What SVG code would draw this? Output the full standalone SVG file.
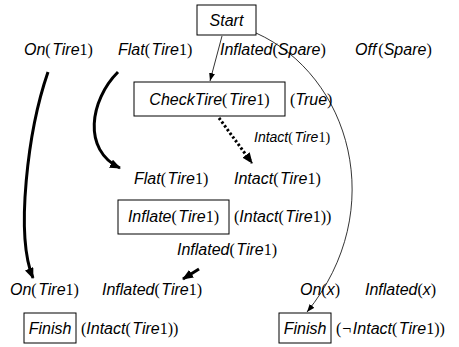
<svg xmlns="http://www.w3.org/2000/svg" width="459" height="347" viewBox="0 0 459 347">
  <defs>
    <style>
      .lb{font-family:"Liberation Sans",Arial,sans-serif;font-size:16px;font-style:italic;fill:#000}
      .sm{font-size:14px}
      .r{font-family:"Liberation Serif","Times New Roman",serif;font-style:normal}
      .box{fill:#fff;stroke:#000;stroke-width:1}
      .thin{fill:none;stroke:#000;stroke-width:0.8}
      .thick{fill:none;stroke:#000;stroke-width:3}
      .dot{fill:none;stroke:#000;stroke-width:3;stroke-dasharray:2.4 2.2}
    </style>
    <marker id="ahThin" markerUnits="userSpaceOnUse" markerWidth="8" markerHeight="6" refX="8" refY="3" orient="auto">
      <path d="M0,0 L8,3 L0,6 z" fill="#000"/>
    </marker>
    <marker id="ahThick" markerUnits="userSpaceOnUse" markerWidth="11" markerHeight="9" refX="10" refY="4.5" orient="auto">
      <path d="M0,0 L11,4.5 L0,9 z" fill="#000"/>
    </marker>
  </defs>
  <rect width="459" height="347" fill="#fff"/>

  <!-- causal links and ordering -->
  <g id="connectors">
    <line class="thin" x1="222" y1="36" x2="210" y2="81" marker-end="url(#ahThin)"/>
    <path class="thin" d="M256,33 C350,75 390,210 307,312" marker-end="url(#ahThin)"/>
    <line class="dot" x1="219" y1="118" x2="252" y2="163" marker-end="url(#ahThick)"/>
    <path class="thick" d="M118,72 C90,100 82,150 120,168" marker-end="url(#ahThick)"/>
    <path class="thick" d="M48,72 C28,130 15,235 33,278" marker-end="url(#ahThick)"/>
    <line class="thick" x1="199" y1="269" x2="183" y2="279" marker-end="url(#ahThick)"/>
  </g>

  <!-- Start step and its effects -->
  <g id="start">
    <rect class="box" x="197" y="5" width="59" height="30"/>
    <text class="lb" x="226.5" y="26" text-anchor="middle">Start</text>
    <text class="lb" x="24" y="55">On<tspan class="r">(</tspan><tspan dx="1.5">Tire</tspan><tspan class="r">1)</tspan></text>
    <text class="lb" x="118" y="55">Flat<tspan class="r">(</tspan><tspan dx="1.5">Tire</tspan><tspan class="r">1)</tspan></text>
    <text class="lb" x="220" y="55">Inflated<tspan class="r">(</tspan>Spare<tspan class="r">)</tspan></text>
    <text class="lb" x="355" y="55">Off<tspan class="r" dx="2">(</tspan>Spare<tspan class="r">)</tspan></text>
  </g>

  <!-- sensing step -->
  <g id="checktire">
    <rect class="box" x="134" y="82" width="151" height="34"/>
    <text class="lb" x="209.5" y="105" text-anchor="middle">CheckTire<tspan class="r">(</tspan><tspan dx="1.5">Tire</tspan><tspan class="r">1)</tspan></text>
    <text class="lb" x="290" y="105"><tspan class="r">(</tspan>True<tspan class="r">)</tspan></text>
    <text class="lb sm" x="254" y="142">Intact<tspan class="r">(</tspan><tspan dx="1.5">Tire</tspan><tspan class="r">1)</tspan></text>
  </g>

  <!-- inflate step -->
  <g id="inflate">
    <text class="lb" x="134" y="184">Flat<tspan class="r">(</tspan><tspan dx="1.5">Tire</tspan><tspan class="r">1)</tspan></text>
    <text class="lb" x="234" y="184">Intact<tspan class="r">(</tspan><tspan dx="1.5">Tire</tspan><tspan class="r">1)</tspan></text>
    <rect class="box" x="118" y="200" width="111" height="34"/>
    <text class="lb" x="173.5" y="222" text-anchor="middle">Inflate<tspan class="r">(</tspan><tspan dx="1.5">Tire</tspan><tspan class="r">1)</tspan></text>
    <text class="lb" x="234" y="222"><tspan class="r">(</tspan>Intact<tspan class="r">(</tspan><tspan dx="1.5">Tire</tspan><tspan class="r">1))</tspan></text>
    <text class="lb" x="177" y="255">Inflated<tspan class="r">(</tspan><tspan dx="1.5">Tire</tspan><tspan class="r">1)</tspan></text>
  </g>

  <!-- finish step, intact branch -->
  <g id="finish-intact">
    <text class="lb" x="10" y="295">On<tspan class="r">(</tspan><tspan dx="1.5">Tire</tspan><tspan class="r">1)</tspan></text>
    <text class="lb" x="102" y="295">Inflated<tspan class="r">(</tspan><tspan dx="1.5">Tire</tspan><tspan class="r">1)</tspan></text>
    <rect class="box" x="24" y="313" width="52" height="30"/>
    <text class="lb" x="50" y="334" text-anchor="middle">Finish</text>
    <text class="lb" x="81" y="334"><tspan class="r">(</tspan>Intact<tspan class="r">(</tspan><tspan dx="1.5">Tire</tspan><tspan class="r">1))</tspan></text>
  </g>

  <!-- finish step, flat branch -->
  <g id="finish-flat">
    <text class="lb" x="300" y="295">On<tspan class="r">(</tspan>x<tspan class="r">)</tspan></text>
    <text class="lb" x="365" y="295">Inflated<tspan class="r">(</tspan>x<tspan class="r">)</tspan></text>
    <rect class="box" x="279" y="313" width="52" height="30"/>
    <text class="lb" x="305" y="334" text-anchor="middle">Finish</text>
    <text class="lb" x="336" y="334"><tspan class="r">(</tspan><tspan class="r" dx="1">¬</tspan><tspan dx="1.5">Intact</tspan><tspan class="r">(</tspan><tspan dx="1.5">Tire</tspan><tspan class="r">1))</tspan></text>
  </g>
</svg>
